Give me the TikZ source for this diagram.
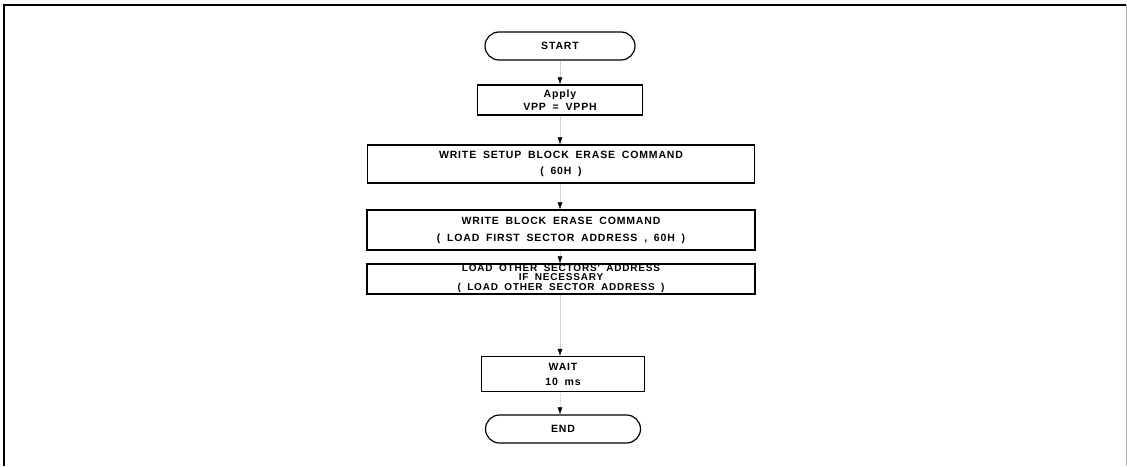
\documentclass[tikz,border=0pt]{standalone}
\usepackage{fontspec}
\newfontfamily\chartfont[LetterSpace=8,WordSpace=1.8]{Liberation Sans}
\usetikzlibrary{arrows.meta,positioning}
\tikzset{
    flowbox/.style={draw, line width=1.2pt, align=center, inner sep=0pt,
        font=\chartfont\bfseries\fontsize{10.5}{#1}\selectfont},
    flowbox/.default=13,
    terminal/.style={flowbox, rounded corners=14pt, minimum height=28pt},
    flowline/.style={gray!35, line width=0.5pt,
        -{Latex[black, length=7pt, width=5pt]}},
}
\begin{document}
\begin{tikzpicture}[x=1pt, y=-1pt]
    \useasboundingbox (0,0) rectangle (1127,466);
    % page frame, open at the bottom
    \draw[line width=1.3pt] (4,466) -- (4,5) -- (1126,5);
    \draw[gray!60, line width=1pt] (1126,5) -- (1126,466);

    \node[terminal, minimum width=150pt] (start) at (560,46) {START};
    \node[flowbox=13, minimum width=165pt, minimum height=30pt] (apply) at (560,100)
        {Apply\\VPP = VPPH};
    \node[flowbox=16, minimum width=387pt, minimum height=38pt] (setup) at (561,164)
        {WRITE SETUP BLOCK ERASE COMMAND\\( 60H )};
    \node[flowbox=17, minimum width=388pt, minimum height=40pt] (erase) at (561,230)
        {WRITE BLOCK ERASE COMMAND\\( LOAD FIRST SECTOR ADDRESS , 60H )};
    \node[flowbox=8.5, minimum width=388pt, minimum height=30pt,
          font=\chartfont\bfseries\fontsize{10}{8.5}\selectfont] (others) at (561,279)
        {LOAD OTHER SECTORS' ADDRESS\\IF NECESSARY\\[2pt]( LOAD OTHER SECTOR ADDRESS )};
    \node[flowbox=15, minimum width=163pt, minimum height=35pt] (wait) at (563,374)
        {WAIT\\10 ms};
    \node[terminal, minimum width=155pt] (end) at (563,429) {END};

    \draw[flowline] (start) -- (apply);
    \draw[flowline] (apply) -- (setup.north -| apply);
    \draw[flowline] (setup.south -| apply) -- (erase.north -| apply);
    \draw[flowline] (erase.south -| apply) -- (others.north -| apply);
    \draw[flowline] (others.south -| apply) -- (wait.north -| apply);
    \draw[flowline, densely dotted] (wait.south -| apply) -- (end.north -| apply);
\end{tikzpicture}
\end{document}
